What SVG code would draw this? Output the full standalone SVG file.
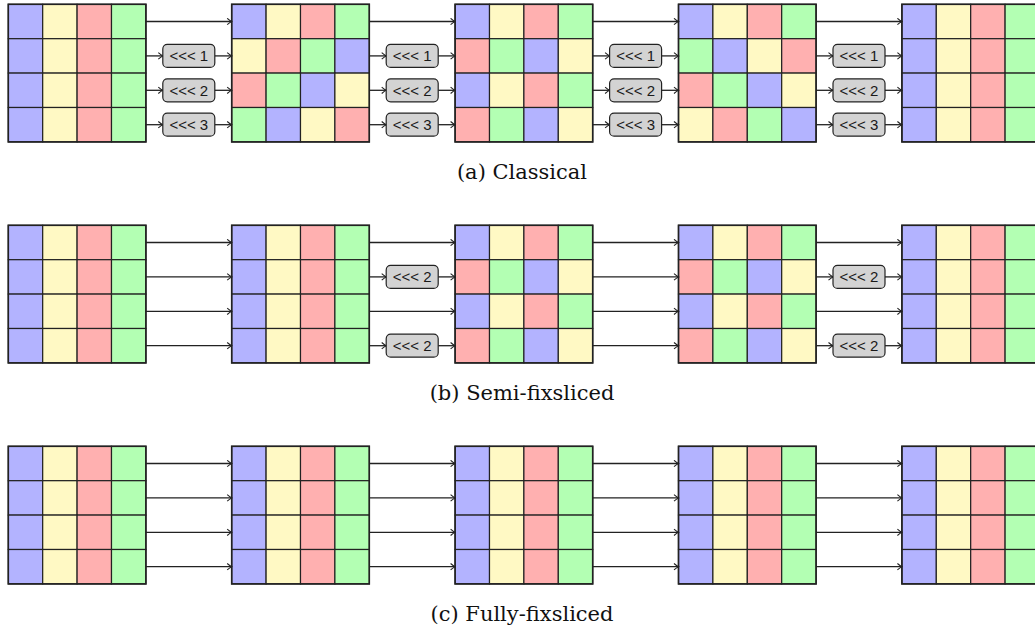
<svg xmlns="http://www.w3.org/2000/svg" xmlns:xlink="http://www.w3.org/1999/xlink" width="1035" height="630" viewBox="0 0 1035 630">
<style>
.cb{fill:#b3b3ff}.cy{fill:#fff9c4}.cr{fill:#ffb0b0}.cg{fill:#b3ffb3}
.cell{stroke:#222;stroke-width:1.2}
.frame{fill:none;stroke:#222;stroke-width:1.6}
.con{fill:none;stroke:#222;stroke-width:1.3}
.lbl rect{fill:#d3d3d3;stroke:#222;stroke-width:1.2}
.lbl text{font-family:"Liberation Sans",Arial,sans-serif;font-size:15px;fill:#1a1a1a;text-anchor:middle}
.cap{font-family:"DejaVu Serif","Liberation Serif",serif;font-size:21px;fill:#111;text-anchor:middle}
</style>
<defs>
<marker id="ah" markerWidth="8" markerHeight="8" refX="7" refY="4" orient="auto" markerUnits="userSpaceOnUse">
<path d="M2.5,0.8 Q5.5,3.4 7,4 Q5.5,4.6 2.5,7.2" fill="none" stroke="#222" stroke-width="1.1"/>
</marker>
<g id="r0"><rect class="cell cb" x="0" width="34.4" height="34.4"/><rect class="cell cy" x="34.4" width="34.4" height="34.4"/><rect class="cell cr" x="68.8" width="34.4" height="34.4"/><rect class="cell cg" x="103.2" width="34.4" height="34.4"/></g>
<g id="r1"><rect class="cell cy" x="0" width="34.4" height="34.4"/><rect class="cell cr" x="34.4" width="34.4" height="34.4"/><rect class="cell cg" x="68.8" width="34.4" height="34.4"/><rect class="cell cb" x="103.2" width="34.4" height="34.4"/></g>
<g id="r2"><rect class="cell cr" x="0" width="34.4" height="34.4"/><rect class="cell cg" x="34.4" width="34.4" height="34.4"/><rect class="cell cb" x="68.8" width="34.4" height="34.4"/><rect class="cell cy" x="103.2" width="34.4" height="34.4"/></g>
<g id="r3"><rect class="cell cg" x="0" width="34.4" height="34.4"/><rect class="cell cb" x="34.4" width="34.4" height="34.4"/><rect class="cell cy" x="68.8" width="34.4" height="34.4"/><rect class="cell cr" x="103.2" width="34.4" height="34.4"/></g>
<g id="gStd"><use href="#r0"/><use href="#r0" y="34.4"/><use href="#r0" y="68.8"/><use href="#r0" y="103.2"/><rect class="frame" width="137.6" height="137.6"/></g>
<g id="gRot"><use href="#r0"/><use href="#r1" y="34.4"/><use href="#r2" y="68.8"/><use href="#r3" y="103.2"/><rect class="frame" width="137.6" height="137.6"/></g>
<g id="gHalf"><use href="#r0"/><use href="#r2" y="34.4"/><use href="#r0" y="68.8"/><use href="#r2" y="103.2"/><rect class="frame" width="137.6" height="137.6"/></g>
<g id="gRot3"><use href="#r0"/><use href="#r3" y="34.4"/><use href="#r2" y="68.8"/><use href="#r1" y="103.2"/><rect class="frame" width="137.6" height="137.6"/></g>
</defs>
<rect width="1035" height="630" fill="#fff"/>

<!-- (a) Classical -->
<g id="a1" transform="translate(8.3,4.3)"><use href="#gStd"/></g>
<g id="a2" transform="translate(231.7,4.3)"><use href="#gRot"/></g>
<g id="a3" transform="translate(455.1,4.3)"><use href="#gHalf"/></g>
<g id="a4" transform="translate(678.5,4.3)"><use href="#gRot3"/></g>
<g id="a5" transform="translate(901.9,4.3)"><use href="#gStd"/></g>

<!-- (b) Semi-fixsliced -->
<g id="b1" transform="translate(8.3,225.3)"><use href="#gStd"/></g>
<g id="b2" transform="translate(231.7,225.3)"><use href="#gStd"/></g>
<g id="b3" transform="translate(455.1,225.3)"><use href="#gHalf"/></g>
<g id="b4" transform="translate(678.5,225.3)"><use href="#gHalf"/></g>
<g id="b5" transform="translate(901.9,225.3)"><use href="#gStd"/></g>

<!-- (c) Fully-fixsliced -->
<g id="c1" transform="translate(8.3,446.3)"><use href="#gStd"/></g>
<g id="c2" transform="translate(231.7,446.3)"><use href="#gStd"/></g>
<g id="c3" transform="translate(455.1,446.3)"><use href="#gStd"/></g>
<g id="c4" transform="translate(678.5,446.3)"><use href="#gStd"/></g>
<g id="c5" transform="translate(901.9,446.3)"><use href="#gStd"/></g>

<g id="connectors" class="con" marker-end="url(#ah)">
<!-- (a) -->
<path d="M145.9,21.5H231.7"/><path d="M145.9,55.9H162.8"/><path d="M214.8,55.9H231.7"/><path d="M145.9,90.3H162.8"/><path d="M214.8,90.3H231.7"/><path d="M145.9,124.7H162.8"/><path d="M214.8,124.7H231.7"/>
<path d="M369.3,21.5H455.1"/><path d="M369.3,55.9H386.2"/><path d="M438.2,55.9H455.1"/><path d="M369.3,90.3H386.2"/><path d="M438.2,90.3H455.1"/><path d="M369.3,124.7H386.2"/><path d="M438.2,124.7H455.1"/>
<path d="M592.7,21.5H678.5"/><path d="M592.7,55.9H609.6"/><path d="M661.6,55.9H678.5"/><path d="M592.7,90.3H609.6"/><path d="M661.6,90.3H678.5"/><path d="M592.7,124.7H609.6"/><path d="M661.6,124.7H678.5"/>
<path d="M816.1,21.5H901.9"/><path d="M816.1,55.9H833"/><path d="M885,55.9H901.9"/><path d="M816.1,90.3H833"/><path d="M885,90.3H901.9"/><path d="M816.1,124.7H833"/><path d="M885,124.7H901.9"/>
<!-- (b) -->
<path d="M145.9,242.5H231.7"/><path d="M145.9,276.9H231.7"/><path d="M145.9,311.3H231.7"/><path d="M145.9,345.7H231.7"/>
<path d="M369.3,242.5H455.1"/><path d="M369.3,276.9H386.2"/><path d="M438.2,276.9H455.1"/><path d="M369.3,311.3H455.1"/><path d="M369.3,345.7H386.2"/><path d="M438.2,345.7H455.1"/>
<path d="M592.7,242.5H678.5"/><path d="M592.7,276.9H678.5"/><path d="M592.7,311.3H678.5"/><path d="M592.7,345.7H678.5"/>
<path d="M816.1,242.5H901.9"/><path d="M816.1,276.9H833"/><path d="M885,276.9H901.9"/><path d="M816.1,311.3H901.9"/><path d="M816.1,345.7H833"/><path d="M885,345.7H901.9"/>
<!-- (c) -->
<path d="M145.9,463.5H231.7"/><path d="M145.9,497.9H231.7"/><path d="M145.9,532.3H231.7"/><path d="M145.9,566.7H231.7"/>
<path d="M369.3,463.5H455.1"/><path d="M369.3,497.9H455.1"/><path d="M369.3,532.3H455.1"/><path d="M369.3,566.7H455.1"/>
<path d="M592.7,463.5H678.5"/><path d="M592.7,497.9H678.5"/><path d="M592.7,532.3H678.5"/><path d="M592.7,566.7H678.5"/>
<path d="M816.1,463.5H901.9"/><path d="M816.1,497.9H901.9"/><path d="M816.1,532.3H901.9"/><path d="M816.1,566.7H901.9"/>
</g>

<g id="labels">
<g class="lbl" id="la11"><rect x="162.8" y="44.4" width="52" height="23" rx="4.5"/><text x="188.8" y="61.2">&lt;&lt;&lt; 1</text></g>
<g class="lbl" id="la12"><rect x="162.8" y="78.8" width="52" height="23" rx="4.5"/><text x="188.8" y="95.6">&lt;&lt;&lt; 2</text></g>
<g class="lbl" id="la13"><rect x="162.8" y="113.2" width="52" height="23" rx="4.5"/><text x="188.8" y="130">&lt;&lt;&lt; 3</text></g>
<g class="lbl" id="la21"><rect x="386.2" y="44.4" width="52" height="23" rx="4.5"/><text x="412.2" y="61.2">&lt;&lt;&lt; 1</text></g>
<g class="lbl" id="la22"><rect x="386.2" y="78.8" width="52" height="23" rx="4.5"/><text x="412.2" y="95.6">&lt;&lt;&lt; 2</text></g>
<g class="lbl" id="la23"><rect x="386.2" y="113.2" width="52" height="23" rx="4.5"/><text x="412.2" y="130">&lt;&lt;&lt; 3</text></g>
<g class="lbl" id="la31"><rect x="609.6" y="44.4" width="52" height="23" rx="4.5"/><text x="635.6" y="61.2">&lt;&lt;&lt; 1</text></g>
<g class="lbl" id="la32"><rect x="609.6" y="78.8" width="52" height="23" rx="4.5"/><text x="635.6" y="95.6">&lt;&lt;&lt; 2</text></g>
<g class="lbl" id="la33"><rect x="609.6" y="113.2" width="52" height="23" rx="4.5"/><text x="635.6" y="130">&lt;&lt;&lt; 3</text></g>
<g class="lbl" id="la41"><rect x="833" y="44.4" width="52" height="23" rx="4.5"/><text x="859" y="61.2">&lt;&lt;&lt; 1</text></g>
<g class="lbl" id="la42"><rect x="833" y="78.8" width="52" height="23" rx="4.5"/><text x="859" y="95.6">&lt;&lt;&lt; 2</text></g>
<g class="lbl" id="la43"><rect x="833" y="113.2" width="52" height="23" rx="4.5"/><text x="859" y="130">&lt;&lt;&lt; 3</text></g>
<g class="lbl" id="lb21"><rect x="386.2" y="265.4" width="52" height="23" rx="4.5"/><text x="412.2" y="282.2">&lt;&lt;&lt; 2</text></g>
<g class="lbl" id="lb22"><rect x="386.2" y="334.2" width="52" height="23" rx="4.5"/><text x="412.2" y="351">&lt;&lt;&lt; 2</text></g>
<g class="lbl" id="lb41"><rect x="833" y="265.4" width="52" height="23" rx="4.5"/><text x="859" y="282.2">&lt;&lt;&lt; 2</text></g>
<g class="lbl" id="lb42"><rect x="833" y="334.2" width="52" height="23" rx="4.5"/><text x="859" y="351">&lt;&lt;&lt; 2</text></g>
</g>

<g id="captions">
<text class="cap" x="522" y="178.5">(a) Classical</text>
<text class="cap" x="522" y="399.5">(b) Semi-fixsliced</text>
<text class="cap" x="522" y="620.5">(c) Fully-fixsliced</text>
</g>
</svg>
